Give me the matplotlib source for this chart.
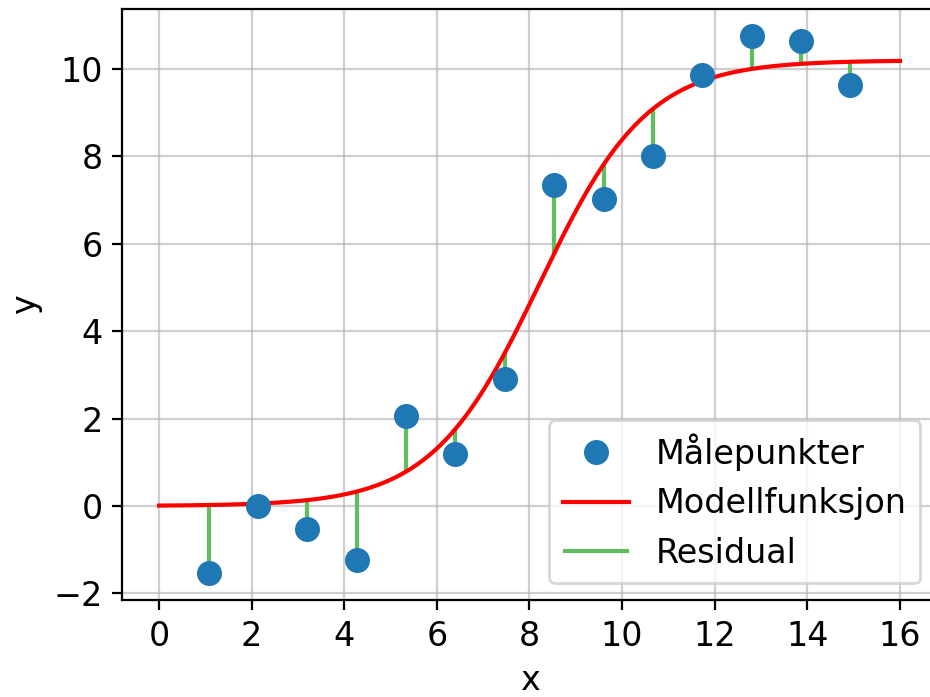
import matplotlib.pyplot as plt
import numpy as np

# measured points
x_data = [1.07, 2.13, 3.20, 4.27, 5.33, 6.40, 7.47, 8.53, 9.60, 10.67, 11.73, 12.80, 13.87, 14.93]
y_data = [-1.54, 0.0, -0.53, -1.24, 2.06, 1.19, 2.91, 7.34, 7.02, 8.00, 9.86, 10.76, 10.64, 9.63]

# logistic model parameters
L_max = 10.2
k_rate = 0.86
x_mid = 8.22
x_range = [0, 16]


def model(x):
    return L_max / (1 + np.exp(-k_rate * (x - x_mid)))


plt.rcParams['font.size'] = 12

fig = plt.figure(figsize=(4.65, 3.485), dpi=200)
ax = fig.add_axes([0.1312, 0.139, 0.8763, 0.848])

xm = np.linspace(x_range[0], x_range[1], 300)
xd = np.array(x_data)
yd = np.array(y_data)

ax.vlines(xd, yd, model(xd), color='#5fbf5f', linewidth=1.5, zorder=2, label='Residual')
ax.plot(xm, model(xm), color='red', linewidth=1.5, zorder=3, label='Modellfunksjon')
ax.plot(xd, yd, 'o', color='#1f77b4', markersize=8, zorder=4, label='Målepunkter')

ax.grid(True, color='#b0b0b0', alpha=0.6)
ax.set_axisbelow(True)
ax.set_xticks(range(0, 17, 2))
ax.set_xlabel('x')
ax.set_ylabel('y')

handles, labels = ax.get_legend_handles_labels()
order = [2, 1, 0]
ax.legend([handles[i] for i in order], [labels[i] for i in order], loc='lower right')

fig.savefig('out.png', dpi=200)
